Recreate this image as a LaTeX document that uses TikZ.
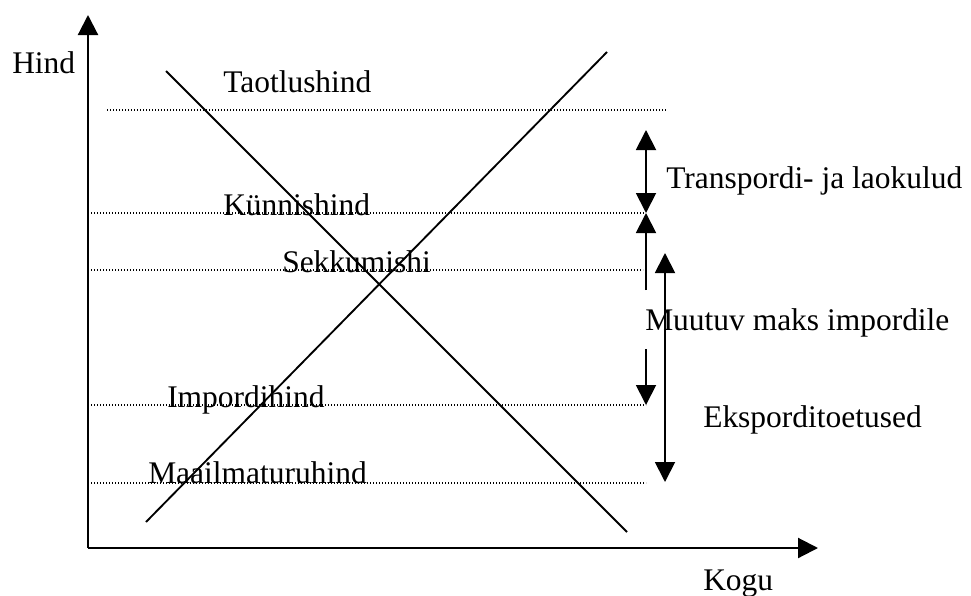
\documentclass[tikz,border=0pt]{standalone}
\usepackage{fontspec}
\setmainfont{Liberation Serif}
\usetikzlibrary{arrows.meta}
\begin{document}
\begin{tikzpicture}[x=0.75pt,y=-0.75pt,
  lbl/.style={anchor=base west, inner sep=0pt, font=\fontsize{23.6}{28}\selectfont},
  axis/.style={line width=1.6pt, -{Triangle[width=15pt,length=15pt]}},
  curve/.style={line width=1.4pt},
  level/.style={line width=1pt, dash pattern=on 0.9pt off 1.35pt},
  dim/.style={line width=1.4pt, -{Triangle[width=15pt,length=15pt]}},
  dimboth/.style={line width=1.4pt, {Triangle[width=15pt,length=15pt]}-{Triangle[width=15pt,length=15pt]}}]
\useasboundingbox (0,0) rectangle (971,596);

% axes
\coordinate (O) at (88,548);
\coordinate (ytop) at (88,15);
\coordinate (xend) at (818,548);
\draw[axis] (O) -- (ytop);
\draw[axis] (O) -- (xend);

% price levels
\coordinate (t0) at (107,110);  \coordinate (t1) at (666,110);
\coordinate (k0) at (91,213);   \coordinate (k1) at (645,213);
\coordinate (s0) at (91,270);   \coordinate (s1) at (643,270);
\coordinate (i0) at (91,405);   \coordinate (i1) at (646,405);
\coordinate (m0) at (91,483);   \coordinate (m1) at (646,483);
\draw[level] (t0) -- (t1);
\draw[level] (k0) -- (k1);
\draw[level] (s0) -- (s1);
\draw[level] (i0) -- (i1);
\draw[level] (m0) -- (m1);

% demand and supply
\coordinate (d0) at (166,71);  \coordinate (d1) at (627,532);
\coordinate (p0) at (146,522); \coordinate (p1) at (607,52);
\draw[curve] (d0) -- (d1);
\draw[curve] (p0) -- (p1);

% labels
\node[lbl] (hind) at (12,73) {Hind};
\node[lbl] (kogu) at (703,590) {Kogu};
\node[lbl] (taot) at (223,92) {Taotlushind};
\node[lbl] (kynn) at (223,215) {Künnishind};
\node[lbl] (sekk) at (282,272) {Sekkumishi};
\node[lbl] (imp) at (167,407) {Impordihind};
\node[lbl] (maa) at (148,483) {Maailmaturuhind};
\node[lbl] (trans) at (666,188) {Transpordi- ja laokulud};
\node[lbl] (muut) at (645,330) {Muutuv maks impordile};
\node[lbl] (eksp) at (703,427) {Eksporditoetused};

% cost arrows
\coordinate (a0) at (646,130); \coordinate (a1) at (646,213);
\draw[dimboth] (a0) -- (a1);
\coordinate (b0) at (646,290);
\draw[dim] (b0) -- (a1);
\coordinate (c0) at (646,349); \coordinate (c1) at (646,405);
\draw[dim] (c0) -- (c1);
\coordinate (e0) at (665,253); \coordinate (e1) at (665,482);
\draw[dimboth] (e0) -- (e1);
\end{tikzpicture}
\end{document}
